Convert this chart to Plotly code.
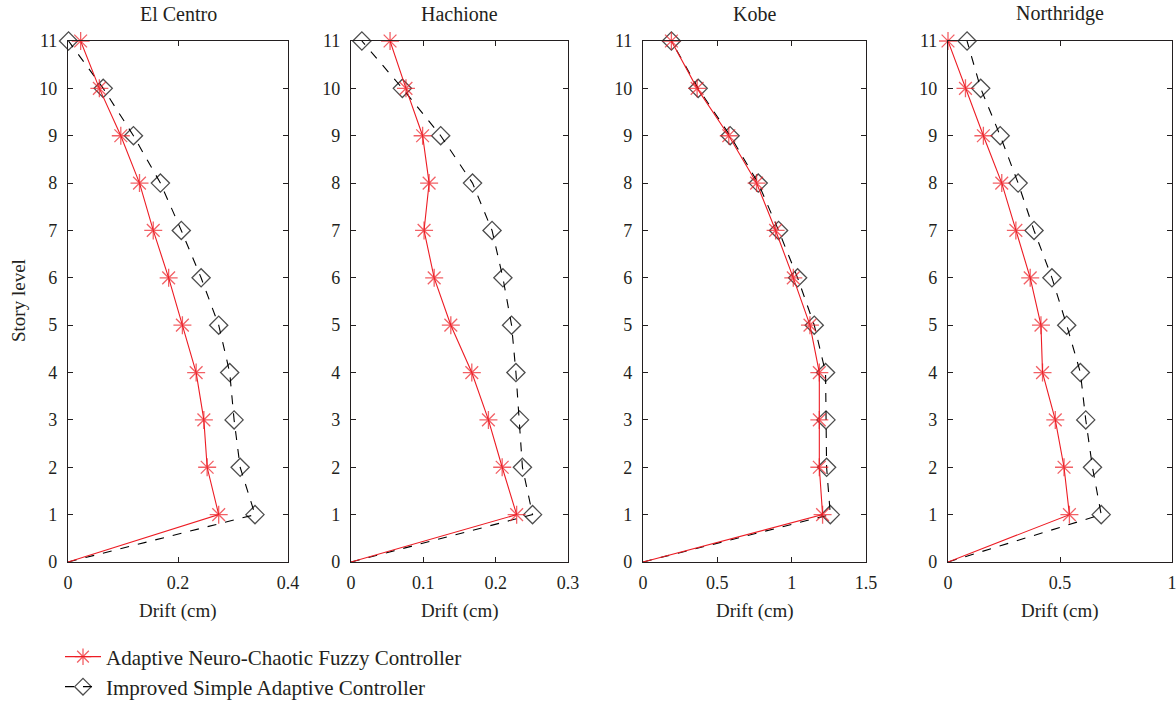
import plotly.graph_objects as go

# ---------------- data ----------------
story_levels = [0, 1, 2, 3, 4, 5, 6, 7, 8, 9, 10, 11]
earthquakes = ["El Centro", "Hachione", "Kobe", "Northridge"]

anc_elcentro = [0, 0.274, 0.253, 0.247, 0.233, 0.208, 0.183, 0.155, 0.130, 0.096, 0.057, 0.023]
isac_elcentro = [0, 0.340, 0.313, 0.302, 0.294, 0.274, 0.242, 0.206, 0.168, 0.119, 0.064, 0.001]

anc_hachione = [0, 0.229, 0.209, 0.190, 0.167, 0.138, 0.115, 0.101, 0.108, 0.099, 0.076, 0.054]
isac_hachione = [0, 0.251, 0.237, 0.233, 0.228, 0.222, 0.210, 0.195, 0.168, 0.124, 0.071, 0.015]

anc_kobe = [0, 1.208, 1.186, 1.186, 1.186, 1.123, 1.011, 0.892, 0.764, 0.577, 0.364, 0.191]
isac_kobe = [0, 1.260, 1.235, 1.231, 1.228, 1.152, 1.040, 0.912, 0.775, 0.586, 0.371, 0.191]

anc_northridge = [0, 0.542, 0.518, 0.479, 0.422, 0.415, 0.367, 0.303, 0.240, 0.158, 0.078, 0.0]
isac_northridge = [0, 0.684, 0.645, 0.615, 0.591, 0.530, 0.464, 0.384, 0.313, 0.233, 0.146, 0.085]

x_ranges = [[0, 0.4], [0, 0.3], [0, 1.5], [0, 1.0]]
x_ticks = [[0, 0.2, 0.4], [0, 0.1, 0.2, 0.3], [0, 0.5, 1, 1.5], [0, 0.5, 1]]
x_ticktext = [["0", "0.2", "0.4"], ["0", "0.1", "0.2", "0.3"], ["0", "0.5", "1", "1.5"], ["0", "0.5", "1"]]

series_anc = [anc_elcentro, anc_hachione, anc_kobe, anc_northridge]
series_isac = [isac_elcentro, isac_hachione, isac_kobe, isac_northridge]

name_anc = "Adaptive Neuro-Chaotic Fuzzy Controller"
name_isac = "Improved Simple Adaptive Controller"
x_title = "Drift (cm)"
y_title = "Story level"

# ---------------- layout geometry ----------------
W, H = 1176, 701
panel_px = [(68, 288), (351, 568), (643, 866), (948, 1172)]
top_px, bottom_px = 41, 562

TEXT = "#231f20"
RED = "#ed1c24"
FONT = "Liberation Serif"

def fx(px):
    return px / W

def fy(py):
    return 1 - py / H

fig = go.Figure()

ydom = [fy(bottom_px), fy(top_px)]
annotations = []
for i in range(4):
    n = "" if i == 0 else str(i + 1)
    xa = "x" + n
    ya = "y" + n
    fig.add_trace(go.Scatter(
        x=series_isac[i], y=story_levels, xaxis=xa, yaxis=ya,
        mode="lines+markers", name=name_isac,
        line=dict(color="black", width=1.1, dash="dash"),
        marker=dict(symbol="diamond-open", size=[0] + [14] * 11, color="black",
                    line=dict(color="black", width=1.3)),
        cliponaxis=False, showlegend=(i == 0), legend="legend2",
    ))
    fig.add_trace(go.Scatter(
        x=series_anc[i], y=story_levels, xaxis=xa, yaxis=ya,
        mode="lines+markers", name=name_anc,
        line=dict(color=RED, width=1.1),
        marker=dict(symbol="asterisk-open", size=[0] + [15] * 11, color=RED,
                    line=dict(color=RED, width=1.3)),
        cliponaxis=False, showlegend=(i == 0), legend="legend",
    ))
    xd = [fx(panel_px[i][0]), fx(panel_px[i][1])]
    axis_common = dict(
        showline=True, linecolor=TEXT, linewidth=1.2, mirror="ticks",
        ticks="inside", ticklen=5, tickwidth=1, tickcolor=TEXT,
        showgrid=False, zeroline=False, automargin=False,
        ticklabeloverflow="allow",
        tickfont=dict(family=FONT, size=18, color=TEXT),
    )
    fig.update_layout(**{
        "xaxis" + n: dict(domain=xd, range=x_ranges[i], tickvals=x_ticks[i],
                          ticktext=x_ticktext[i], anchor=ya, ticklabelstandoff=4,
                          **axis_common),
        "yaxis" + n: dict(domain=ydom, range=[0, 11], tickvals=story_levels,
                          anchor=xa, ticklabelstandoff=6, **axis_common),
    })
    cx = (xd[0] + xd[1]) / 2
    annotations.append(dict(text=earthquakes[i], x=cx, y=fy(14), xref="paper", yref="paper",
                            showarrow=False, xanchor="center", yanchor="middle",
                            font=dict(family=FONT, size=20, color=TEXT)))
    annotations.append(dict(text=x_title, x=cx, y=fy(611), xref="paper", yref="paper",
                            showarrow=False, xanchor="center", yanchor="middle",
                            font=dict(family=FONT, size=19, color=TEXT)))

annotations.append(dict(text=y_title, x=fx(18), y=fy(301), xref="paper", yref="paper",
                        showarrow=False, xanchor="center", yanchor="middle", textangle=-90,
                        font=dict(family=FONT, size=19, color=TEXT)))

legend_common = dict(font=dict(family=FONT, size=21, color=TEXT), bgcolor="rgba(0,0,0,0)",
                     xanchor="left", yanchor="middle", itemwidth=36)
fig.update_layout(
    width=W, height=H,
    margin=dict(l=0, r=0, t=0, b=0, pad=0, autoexpand=False),
    paper_bgcolor="white", plot_bgcolor="white",
    annotations=annotations,
    legend=dict(x=fx(60), y=fy(657), **legend_common),
    legend2=dict(x=fx(60), y=fy(687), **legend_common),
)

fig.write_html(
    "out.html",
    config={"displayModeBar": False},
    post_script="document.body.style.margin='0';document.body.style.overflow='hidden';",
)
